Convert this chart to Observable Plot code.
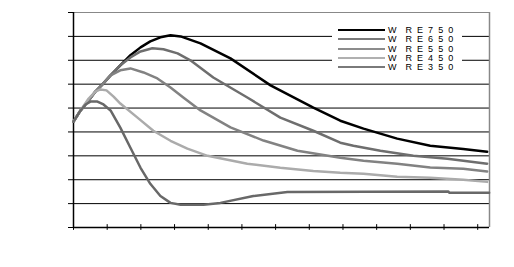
<!DOCTYPE html>
<html>
<head>
<meta charset="utf-8">
<script src="https://cdn.jsdelivr.net/npm/d3@7"></script>
<script src="https://cdn.jsdelivr.net/npm/@observablehq/plot@0.6"></script>
<style>
  html, body { margin: 0; padding: 0; background: #fff; }
  #wrap { position: relative; width: 514px; height: 267px; overflow: hidden; }
  #legend { position: absolute; left: 332px; top: 24px; width: 130px; height: 48px; background: #fff;
            font-family: "Liberation Sans", Arial, sans-serif; font-size: 9px; color: #000; }
  .row { position: absolute; left: 6px; height: 9px; display: flex; align-items: center; }
  .sw { width: 47px; height: 2px; margin-right: 3px; }
  .lab { white-space: pre; line-height: 9px; letter-spacing: 1.3px; }
</style>
</head>
<body>
<div id="wrap"><div id="chart"></div><div id="legend"></div></div>
<script>
const seriesNames = ["W  R E 7 5 0", "W  R E 6 5 0", "W  R E 5 5 0", "W  R E 4 5 0", "W  R E 3 5 0"];
const seriesColors = ["#000000", "#6e6e6e", "#828282", "#ababab", "#686868"];
const legendColors = ["#000000", "#7a7a7a", "#8c8c8c", "#b0b0b0", "#7a7a7a"];

const xTicks = [0, 1, 2, 3, 4, 5, 6, 7, 8, 9, 10, 11, 12];
const yTicks = [0, 1, 2, 3, 4, 5, 6, 7, 8, 9];
const gridY = [1, 2, 3, 4, 5, 6, 7, 8];

const x750 = [0, 0.21, 0.45, 0.65, 0.86, 1.10, 1.39, 1.69, 1.99, 2.28, 2.58, 2.88, 3.18, 3.77, 4.66, 5.85, 7.12, 7.92, 8.61, 9.61, 10.59, 11.57, 12.28];
const y750 = [4.43, 4.90, 5.32, 5.69, 5.99, 6.37, 6.79, 7.21, 7.54, 7.79, 7.96, 8.05, 8.00, 7.71, 7.08, 5.95, 5.02, 4.47, 4.14, 3.72, 3.42, 3.29, 3.17];

const x650 = [0, 0.21, 0.45, 0.65, 0.86, 1.10, 1.39, 1.69, 1.99, 2.34, 2.67, 3.09, 3.47, 4.15, 5.16, 6.14, 7.12, 7.92, 8.31, 9.11, 10.09, 11.10, 12.28];
const y650 = [4.43, 4.90, 5.32, 5.69, 5.99, 6.37, 6.79, 7.12, 7.37, 7.50, 7.46, 7.29, 7.00, 6.28, 5.44, 4.60, 4.05, 3.55, 3.42, 3.21, 3.00, 2.88, 2.67];

const x550 = [0, 0.21, 0.45, 0.65, 0.86, 1.10, 1.39, 1.69, 2.08, 2.49, 2.88, 3.26, 3.77, 4.66, 5.64, 6.65, 7.92, 8.61, 9.61, 10.59, 11.57, 12.28];
const y550 = [4.43, 4.90, 5.32, 5.69, 5.99, 6.37, 6.58, 6.66, 6.49, 6.24, 5.86, 5.44, 4.90, 4.19, 3.64, 3.21, 2.92, 2.79, 2.67, 2.51, 2.46, 2.34];

const x450 = [0, 0.21, 0.45, 0.65, 0.80, 0.98, 1.19, 1.39, 1.90, 2.37, 2.88, 3.38, 3.98, 5.16, 6.14, 7.12, 7.92, 8.61, 9.61, 10.59, 11.57, 12.28];
const y450 = [4.43, 4.90, 5.40, 5.69, 5.78, 5.74, 5.48, 5.19, 4.60, 4.05, 3.63, 3.30, 3.00, 2.67, 2.50, 2.37, 2.29, 2.25, 2.12, 2.08, 2.00, 1.91];

const x350 = [0, 0.21, 0.36, 0.50, 0.71, 0.89, 1.10, 1.39, 1.69, 1.99, 2.28, 2.58, 2.88, 3.18, 3.86, 4.36, 5.34, 6.35, 11.13, 11.16, 12.34];
const y350 = [4.43, 4.90, 5.15, 5.27, 5.27, 5.15, 4.90, 4.18, 3.34, 2.50, 1.83, 1.32, 1.03, 0.95, 0.95, 1.03, 1.32, 1.49, 1.51, 1.45, 1.45];

const xs = [x750, x650, x550, x450, x350];
const ys = [y750, y650, y550, y450, y350];
const rows = [];
seriesNames.forEach((s, i) => xs[i].forEach((xv, j) => rows.push({series: s, x: xv, y: ys[i][j]})));

const chart = Plot.plot({
  width: 514,
  height: 267,
  marginLeft: 73,
  marginRight: 25,
  marginTop: 12,
  marginBottom: 40,
  style: {background: "#fff", color: "#000", overflow: "visible"},
  x: {domain: [0, 12.35], axis: null, label: null},
  y: {domain: [0, 9], label: null},
  color: {domain: seriesNames, range: seriesColors},
  marks: [
    Plot.ruleY(gridY, {stroke: "#000", strokeWidth: 1}),
    Plot.ruleY([9], {stroke: "#888", strokeWidth: 1}),
    Plot.ruleX([12.35], {stroke: "#888", strokeWidth: 1.5}),
    Plot.ruleX([0], {stroke: "#000", strokeWidth: 1.5}),
    Plot.ruleY([0], {stroke: "#000", strokeWidth: 1.5}),
    Plot.ruleX(xTicks, {x: d => d, y1: -0.12, y2: 0.12, stroke: "#000"}),
    Plot.axisY(yTicks, {tickSize: 5, tickFormat: () => "", label: null, stroke: "#000"}),
    Plot.line(rows, {x: "x", y: "y", z: "series", stroke: "series", strokeWidth: 2.5, curve: "linear"})
  ]
});
document.getElementById("chart").append(chart);

const legend = document.getElementById("legend");
const rowTops = [1.5, 10.8, 20.8, 29.8, 38.8];
seriesNames.forEach((s, i) => {
  const r = document.createElement("div");
  r.className = "row";
  r.style.top = rowTops[i] + "px";
  const sw = document.createElement("div");
  sw.className = "sw";
  sw.style.background = legendColors[i];
  const lab = document.createElement("span");
  lab.className = "lab";
  lab.textContent = s;
  r.append(sw, lab);
  legend.append(r);
});
</script>
</body>
</html>
